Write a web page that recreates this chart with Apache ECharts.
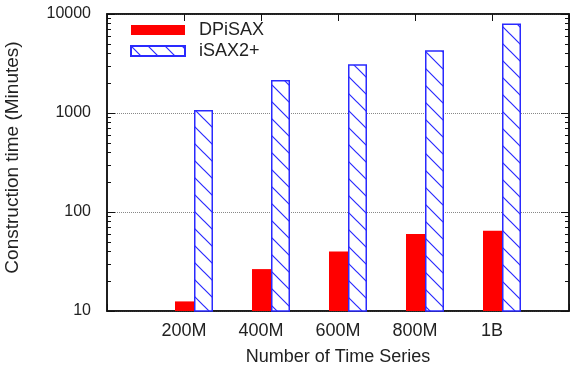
<!DOCTYPE html>
<html><head><meta charset="utf-8">
<script src="https://cdn.jsdelivr.net/npm/echarts@6/dist/echarts.min.js"></script>
<style>html,body{margin:0;padding:0;background:#fff}#c{width:576px;height:367px}</style>
</head><body><div id="c"></div>
<script>
// ---- data ----
const categories = ['', '200M', '400M', '600M', '800M', '1B', ''];
const dpisax = ['-', 12.5, 26.5, 40, 60, 64.5, '-'];
const isax2 = ['-', 1070, 2150, 3100, 4300, 8000, '-'];
const yMajorTicks = [10, 100, 1000, 10000];
const yMinorTicks = [20, 30, 40, 50, 60, 70, 80, 90,
  200, 300, 400, 500, 600, 700, 800, 900,
  2000, 3000, 4000, 5000, 6000, 7000, 8000, 9000];

const FONT = 'Liberation Sans, Arial, Helvetica, sans-serif';
const TXT = '#222';
const AX = '#111';

function hatch() {
  const P = 17, c = document.createElement('canvas');
  c.width = P; c.height = P;
  const g = c.getContext('2d');
  g.fillStyle = '#fff'; g.fillRect(0, 0, P, P);
  g.strokeStyle = '#2a2aff'; g.lineWidth = 1.2;
  g.beginPath();
  g.moveTo(-2, -2); g.lineTo(P + 2, P + 2);
  g.moveTo(-2, P - 2); g.lineTo(2, P + 2);
  g.moveTo(P - 2, -2); g.lineTo(P + 2, 2);
  g.stroke();
  return c;
}

const chart = echarts.init(document.getElementById('c'), null, {renderer: 'canvas'});
const yBase = {type: 'log', logBase: 10, min: 10, max: 10000, gridIndex: 0};
chart.setOption({
  animation: false,
  textStyle: {fontFamily: FONT, color: TXT},
  grid: [
    {left: 107, right: 7, top: 14, bottom: 56, show: true, borderColor: AX, borderWidth: 1.5, outerBoundsMode: 'none', containLabel: false},
    {left: 117, right: -3, top: 14, bottom: 56, outerBoundsMode: 'none', containLabel: false}
  ],
  legend: {
    data: ['DPiSAX', 'iSAX2+'], orient: 'vertical', left: 130, top: 21, padding: 0,
    itemWidth: 54, itemHeight: 10, itemGap: 3, icon: 'rect',
    textStyle: {fontSize: 18, color: TXT, fontFamily: FONT, padding: [0, 0, 0, 9]}
  },
  xAxis: [
    {type: 'category', gridIndex: 0, data: categories, boundaryGap: false, position: 'bottom',
     axisLine: {lineStyle: {color: AX, width: 1.5}},
     axisTick: {inside: true, length: 7, interval: 0, lineStyle: {color: AX}},
     axisLabel: {interval: 0, fontSize: 18, margin: 11, color: TXT, fontFamily: FONT},
     splitLine: {show: false},
     name: 'Number of Time Series', nameLocation: 'middle', nameGap: 37,
     nameTextStyle: {fontSize: 18, color: TXT, fontFamily: FONT}},
    {type: 'category', gridIndex: 0, data: categories, boundaryGap: false, position: 'top',
     axisLine: {lineStyle: {color: AX, width: 1.5}},
     axisTick: {inside: true, length: 7, interval: 0, lineStyle: {color: AX}},
     axisLabel: {show: false}, splitLine: {show: false}},
    {type: 'category', gridIndex: 1, data: categories, boundaryGap: false, show: false}
  ],
  yAxis: [
    Object.assign({}, yBase, {position: 'left',
     axisLine: {show: true, lineStyle: {color: AX, width: 1.5}},
     axisTick: {show: true, inside: true, length: 8, lineStyle: {color: AX}},
     axisLabel: {fontSize: 16, margin: 16, color: TXT, fontFamily: FONT,
                 formatter: v => String(Math.round(v))},
     splitLine: {show: true, lineStyle: {color: '#888', type: 'dotted', width: 1}},
     name: 'Construction time (Minutes)', nameLocation: 'middle', nameGap: 85,
     nameTextStyle: {fontSize: 19, color: TXT, fontFamily: FONT, padding: [0, 0, 0, 10]}}),
    Object.assign({}, yBase, {position: 'left', offset: 0,
     axisLine: {show: false}, axisLabel: {show: false}, splitLine: {show: false},
     axisTick: {show: true, inside: true, length: 4, customValues: yMinorTicks, lineStyle: {color: AX}}}),
    Object.assign({}, yBase, {position: 'right', offset: 0,
     axisLine: {show: true, lineStyle: {color: AX, width: 1.5}}, axisLabel: {show: false}, splitLine: {show: false},
     axisTick: {show: true, inside: true, length: 8, lineStyle: {color: AX}}}),
    Object.assign({}, yBase, {position: 'right', offset: 0,
     axisLine: {show: false}, axisLabel: {show: false}, splitLine: {show: false},
     axisTick: {show: true, inside: true, length: 4, customValues: yMinorTicks, lineStyle: {color: AX}}}),
    {type: 'log', logBase: 10, min: 10, max: 10000, gridIndex: 1, show: false}
  ],
  series: [
    {name: 'DPiSAX', type: 'bar', xAxisIndex: 2, yAxisIndex: 4, data: dpisax,
     barWidth: 19, barGap: 0, clip: true, itemStyle: {color: '#ff0000'}},
    {name: 'iSAX2+', type: 'bar', xAxisIndex: 2, yAxisIndex: 4, data: isax2,
     barWidth: 19, barGap: 0, clip: true,
     itemStyle: {color: {image: hatch(), repeat: 'repeat'}, borderColor: '#2a2aff', borderWidth: 1.5}}
  ]
});
</script>
</body></html>
